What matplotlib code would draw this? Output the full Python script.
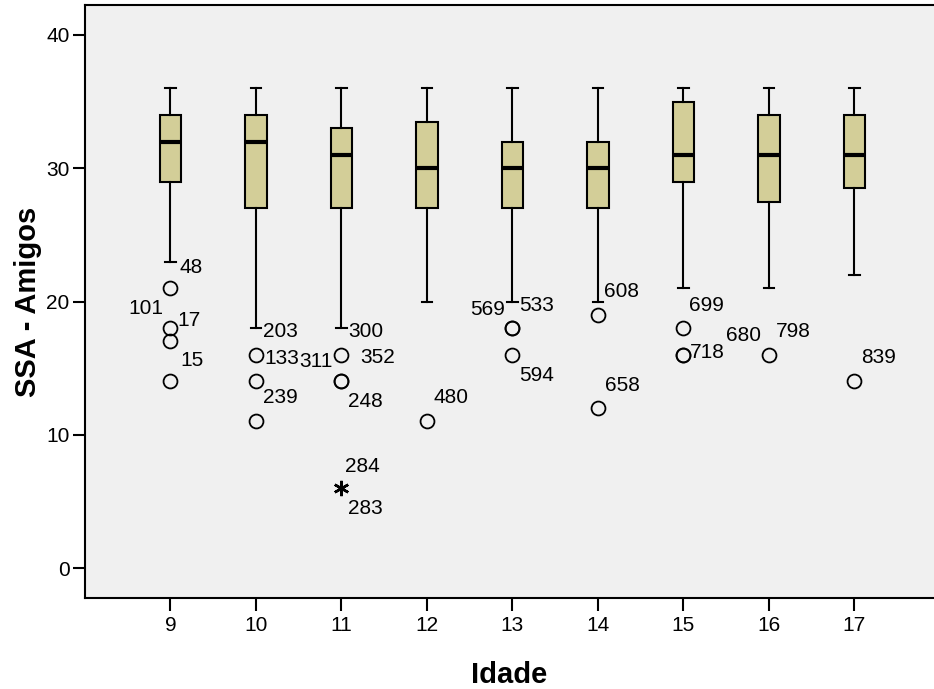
import matplotlib.pyplot as plt
import numpy as np

plt.rcParams['font.family'] = ['Liberation Sans', 'DejaVu Sans']

# idade groups and box stats (SSA - Amigos)
idade = [9, 10, 11, 12, 13, 14, 15, 16, 17]
whis_low = [23, 18, 18, 20, 20, 20, 21, 21, 22]
q1 = [29, 27, 27, 27, 27, 27, 29, 27.5, 28.5]
median = [32, 32, 31, 30, 30, 30, 31, 31, 31]
q3 = [34, 34, 33, 33.5, 32, 32, 35, 34, 34]
whis_high = [36, 36, 36, 36, 36, 36, 36, 36, 36]

# outliers: (idade, value)
out_x = [9, 9, 9, 9, 10, 10, 10, 11, 11, 11, 12, 13, 13, 13, 14, 14, 15, 15, 15, 16, 17]
out_y = [21, 18, 17, 14, 16, 14, 11, 16, 14, 14, 11, 18, 18, 16, 19, 12, 18, 16, 16, 16, 14]
# extreme values
ext_x = [11]
ext_y = [6]

# case labels: (idade, value, text)
lab_x = [9, 9, 9, 9, 10, 10, 10, 11, 11, 11, 11, 11, 11, 12, 13, 13, 13, 14, 14, 15, 15, 16, 16, 17]
lab_y = [21, 18, 18, 14, 16, 16, 14, 16, 16, 16, 14, 6, 6, 11, 18, 18, 16, 19, 12, 18, 16, 16, 16, 14]
lab_txt = ['48', '101', '17', '15', '203', '133', '239', '300', '311', '352', '248', '284', '283',
           '480', '569', '533', '594', '608', '658', '699', '718', '680', '798', '839']
# label offsets in pixels (dx right, dy down)
lab_off = [(21, -21), (-25, -20), (19, -8), (22, -21), (24, -23), (26, 4), (24, 16),
           (24, -23), (-26, 7), (36, 3), (24, 20), (21, -22), (24, 20),
           (24, -24), (-25, -19), (24, -23), (24, 21), (24, -23), (24, -23),
           (23, -23), (24, -2), (-25, -19), (24, -23), (24, -24)]

fig = plt.figure(figsize=(9.34, 6.89), dpi=100)
ax = fig.add_axes([0.091, 0.132, 0.909, 0.8608])
ax.set_facecolor('#f0f0f0')

stats = []
for i in range(len(idade)):
    stats.append({'med': median[i], 'q1': q1[i], 'q3': q3[i],
                  'whislo': whis_low[i], 'whishi': whis_high[i], 'fliers': []})
ax.bxp(stats, positions=idade, widths=0.255, patch_artist=True, showfliers=False,
       boxprops=dict(facecolor='#d3ce98', edgecolor='black', linewidth=1.5),
       medianprops=dict(color='black', linewidth=3),
       whiskerprops=dict(color='black', linewidth=1.5),
       capprops=dict(color='black', linewidth=1.5), capwidths=0.12,
       manage_ticks=False)

ax.plot(out_x, out_y, 'o', markersize=10, markerfacecolor='none',
        markeredgecolor='black', markeredgewidth=1.3)
ax.plot(ext_x, ext_y, marker=(6, 2, 0), linestyle='none', markersize=11,
        color='black', markeredgewidth=1.8)

for x, y, t, (dx, dy) in zip(lab_x, lab_y, lab_txt, lab_off):
    ax.annotate(t, (x, y), xytext=(dx * 0.72, -dy * 0.72), textcoords='offset points',
                ha='center', va='center', fontsize=15)

ax.set_xlim(8, 17.93)
ax.set_ylim(-2.25, 42.25)
ax.set_xticks(idade)
ax.set_yticks([0, 10, 20, 30, 40])
ax.tick_params(axis='both', labelsize=15, width=1.5, length=9, color='black')
ax.tick_params(axis='x', pad=4)
ax.tick_params(axis='y', pad=2)
for s in ['left', 'bottom', 'top']:
    ax.spines[s].set_linewidth(1.5)
ax.spines['right'].set_visible(False)

ax.set_xlabel('Idade', fontsize=21, fontweight='bold')
ax.set_ylabel('SSA - Amigos', fontsize=21, fontweight='bold')
ax.xaxis.set_label_coords(0.5, -0.13)
ax.yaxis.set_label_coords(-0.067, 0.5)
ax.xaxis.label.set_va('center')
ax.yaxis.label.set_va('center')

fig.savefig('out.png', dpi=100)
